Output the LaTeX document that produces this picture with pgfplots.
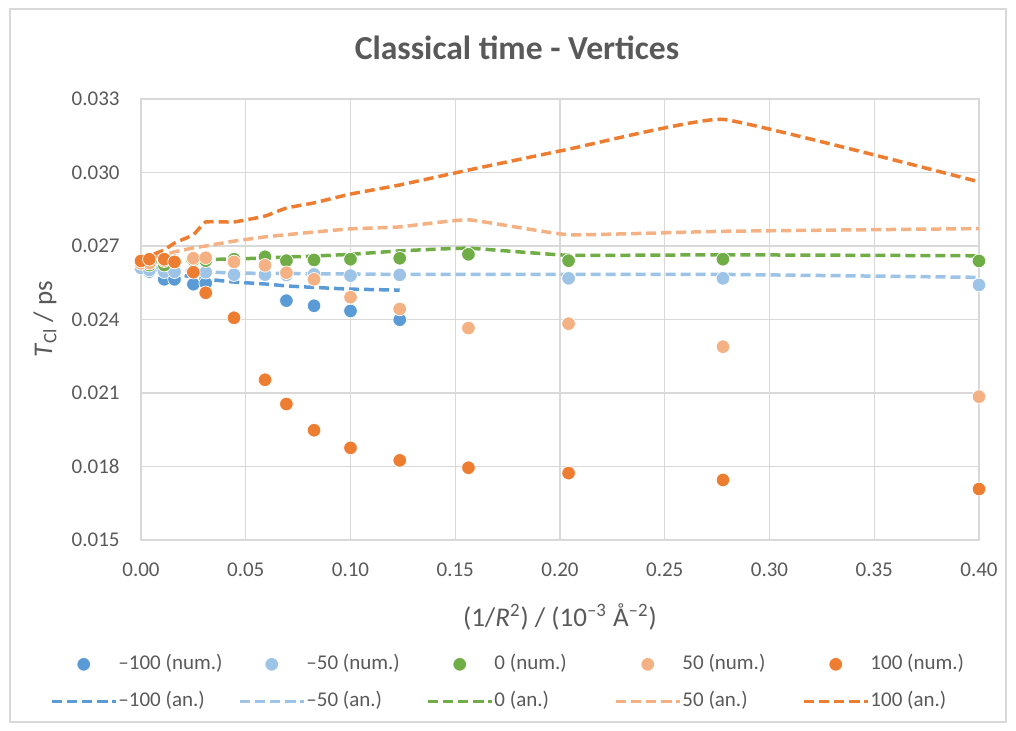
\documentclass[border=0pt]{standalone}
\usepackage{fontspec}
\setmainfont{Carlito}
\usepackage{pgfplots}
\pgfplotsset{compat=1.18}
\definecolor{cA}{HTML}{5B9BD5}
\definecolor{cB}{HTML}{9DC3E6}
\definecolor{cC}{HTML}{70AD47}
\definecolor{cD}{HTML}{F4B183}
\definecolor{cE}{HTML}{ED7D31}
\definecolor{txt}{HTML}{595959}
\definecolor{grd}{HTML}{D9D9D9}
\newcommand\LE[1]{\hbox to 60.25pt{\hskip0.5pt #1\hfil}}
\begin{document}
\begin{tikzpicture}
\path[use as bounding box] (-70.5pt,-95.5pt) rectangle (437.5pt,270pt);
\draw[grd, line width=0.6pt] (-65.5pt,-91pt) rectangle (432.5pt,265.5pt);
\begin{axis}[
  at={(0,0)}, anchor=south west,
  scale only axis, width=419pt, height=220.5pt,
  xmin=0, xmax=0.4, ymin=0.015, ymax=0.033,
  xtick={0,0.05,0.1,0.15,0.2,0.25,0.3,0.35,0.4},
  ytick={0.015,0.018,0.021,0.024,0.027,0.030,0.033},
  scaled x ticks=false, scaled y ticks=false,
  grid=major, major grid style={grd, line width=0.65pt},
  axis line style={grd, line width=0.65pt},
  major tick length=0pt,
  clip=false,
  /pgf/number format/assume math mode=true,
  tick label style={font=\fontsize{10.5}{12}\selectfont, text=txt, inner sep=0pt},
  xticklabel style={/pgf/number format/fixed, /pgf/number format/fixed zerofill, /pgf/number format/precision=2, yshift=-11pt},
  yticklabel style={/pgf/number format/fixed, /pgf/number format/fixed zerofill, /pgf/number format/precision=3, xshift=-10.5pt},
  title={Classical time - Vertices},
  title style={at={(axis description cs:0.4487,1.1156)}, anchor=center, yshift=-6pt, font=\bfseries\fontsize{16.8}{19}\selectfont, text=txt},
  xlabel={(1/\textit{R}\textsuperscript{2}) / (10\textsuperscript{–3} Å\textsuperscript{–2})},
  xlabel style={at={(axis description cs:0.5,-0.1746)}, anchor=center, font=\fontsize{13.5}{16}\selectfont, text=txt},
  ylabel={\textit{T}\textsubscript{Cl} / ps},
  ylabel style={at={(axis description cs:-0.1146,0.5)}, anchor=center, font=\fontsize{13.5}{16}\selectfont, text=txt},
  legend columns=5,
  legend image code/.code={\draw[mark repeat=2,mark phase=2,#1] plot coordinates {(0pt,0pt) (16pt,0pt) (32pt,0pt)};},
  legend style={at={(axis description cs:-0.1086,-0.2615)}, anchor=north west, draw=none, fill=none,
    inner sep=0pt, outer sep=0pt, column sep=0pt, row sep=9.7pt,
    font=\fontsize{10.5}{12}\selectfont, text=txt,
    nodes={inner sep=0pt, text height=7pt, text depth=2pt}, cells={anchor=center}},
  num/.style={only marks, mark=*, mark size=3.4pt, mark options={fill=#1, draw=white, line width=0.35pt, solid}},
  an/.style={no marks, color=#1, line width=1.75pt, dash pattern=on 5pt off 2.5pt, smooth, tension=0.2},
]
% numerical series
\addplot[num=cA] coordinates {(0,0.02618) (0.004,0.02596) (0.0111,0.02564) (0.016,0.02564) (0.025,0.02544) (0.0309,0.02548) (0.0694,0.02477) (0.0826,0.02456) (0.1,0.02435) (0.1235,0.02399)};
\addplot[num=cB] coordinates {(0,0.0261) (0.004,0.02602) (0.0111,0.02595) (0.016,0.02595) (0.025,0.02595) (0.0309,0.02593) (0.0444,0.02583) (0.0592,0.02583) (0.0694,0.02582) (0.0826,0.02584) (0.1,0.02579) (0.1235,0.02582) (0.2041,0.02568) (0.2778,0.02568) (0.4,0.02541)};
\addplot[num=cC] coordinates {(0,0.02631) (0.004,0.02622) (0.0111,0.02622) (0.016,0.02635) (0.025,0.02643) (0.0309,0.0264) (0.0444,0.02646) (0.0592,0.02656) (0.0694,0.0264) (0.0826,0.02643) (0.1,0.02646) (0.1235,0.0265) (0.1563,0.02666) (0.2041,0.0264) (0.2778,0.02646) (0.4,0.02639)};
\addplot[num=cD] coordinates {(0,0.02629) (0.004,0.0263) (0.0111,0.0264) (0.016,0.0264) (0.025,0.0265) (0.0309,0.02652) (0.0444,0.02635) (0.0592,0.02621) (0.0694,0.02591) (0.0826,0.02564) (0.1,0.02491) (0.1235,0.02443) (0.1563,0.02365) (0.2041,0.02383) (0.2778,0.02289) (0.4,0.02085)};
\addplot[num=cE] coordinates {(0,0.02639) (0.004,0.02646) (0.0111,0.02646) (0.016,0.02635) (0.025,0.02593) (0.0309,0.02509) (0.0444,0.02407) (0.0592,0.02154) (0.0694,0.02055) (0.0826,0.01948) (0.1,0.01876) (0.1235,0.01825) (0.1563,0.01795) (0.2041,0.01773) (0.2778,0.01745) (0.4,0.01708)};
% analytical series
\addplot[an=cA] coordinates {(0,0.02622) (0.004,0.0261) (0.0111,0.02594) (0.016,0.02586) (0.025,0.02573) (0.0309,0.02565) (0.0444,0.02553) (0.0592,0.02545) (0.0694,0.02537) (0.0826,0.02531) (0.1,0.02524) (0.1235,0.0252)};
\addplot[an=cB] coordinates {(0,0.02622) (0.004,0.02614) (0.0111,0.02606) (0.016,0.02602) (0.025,0.02598) (0.0309,0.02594) (0.0444,0.0259) (0.0592,0.02588) (0.0694,0.02588) (0.0826,0.02586) (0.1,0.02586) (0.1235,0.02584) (0.1563,0.02584) (0.2041,0.02584) (0.2778,0.02584) (0.4,0.02572)};
\addplot[an=cC] coordinates {(0,0.02627) (0.004,0.02631) (0.0111,0.02635) (0.016,0.02639) (0.025,0.02643) (0.0309,0.02645) (0.0444,0.02647) (0.0592,0.02651) (0.0694,0.02655) (0.0826,0.02659) (0.1,0.02666) (0.1235,0.0268) (0.1563,0.02691) (0.2041,0.02662) (0.2778,0.02664) (0.4,0.0266)};
\addplot[an=cD] coordinates {(0,0.02635) (0.004,0.02651) (0.0111,0.02663) (0.016,0.02676) (0.025,0.02692) (0.0309,0.027) (0.0444,0.0272) (0.0592,0.02737) (0.0694,0.02746) (0.0826,0.02757) (0.1,0.0277) (0.1235,0.02778) (0.1563,0.02807) (0.2041,0.02746) (0.2778,0.0276) (0.4,0.02771)};
\addplot[an=cE] coordinates {(0,0.02635) (0.004,0.02659) (0.0111,0.02684) (0.016,0.02712) (0.025,0.02746) (0.0309,0.02798) (0.0444,0.02798) (0.0592,0.02822) (0.0694,0.02855) (0.0826,0.02876) (0.1,0.02912) (0.1235,0.02949) (0.1563,0.0301) (0.2041,0.03095) (0.2778,0.03217) (0.4,0.02962)};
\legend{\LE{–100 (num.)},\LE{–50 (num.)},\LE{0 (num.)},\LE{50 (num.)},\LE{100 (num.)},\LE{–100 (an.)},\LE{–50 (an.)},\LE{0 (an.)},\LE{50 (an.)},\LE{100 (an.)}}
\end{axis}
\end{tikzpicture}
\end{document}
